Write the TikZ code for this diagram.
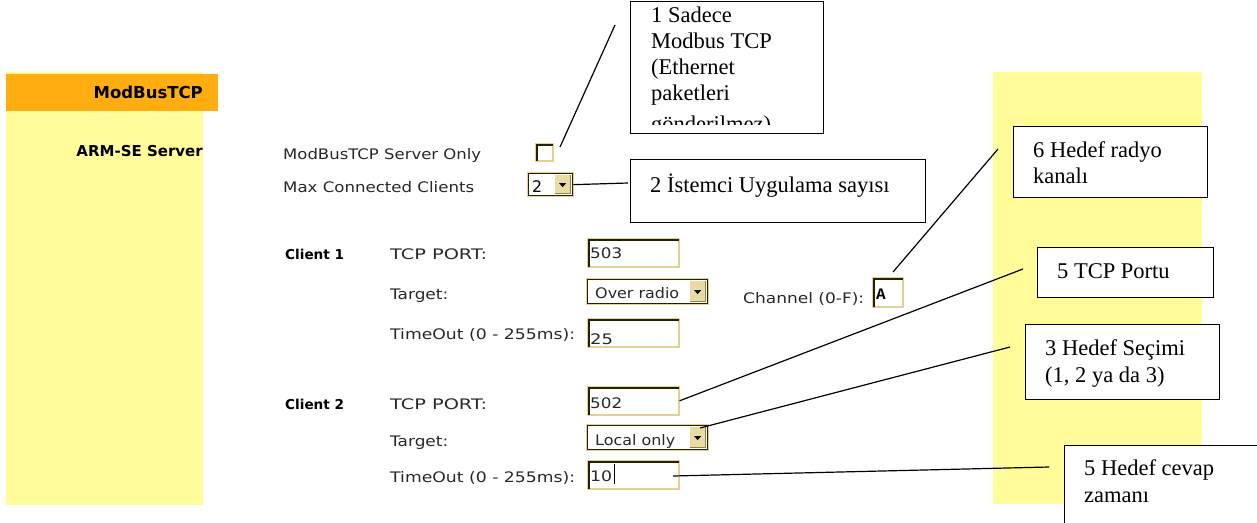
\documentclass[tikz,border=0pt]{standalone}
\usepackage{fontspec}
\usepackage{graphicx}
\usetikzlibrary{calc}
\setmainfont{Liberation Serif}
\newfontfamily\uifont{DejaVu Sans}
\newfontfamily\chanfont{Liberation Mono}
% stretch a label horizontally to a given width (in pt), keeping its height
\newcommand\fw[2]{\resizebox{#1pt}{\height}{#2}}
% sunken edge (top and left) of a text field; y runs downwards here
\newcommand\fieldedge[1]{%
  \draw[fielddark, line width=1.5pt]
    ($(#1.south west)+(1.8,-1.0)$) --
    ($(#1.north west)+(1.8,1.8)$) --
    ($(#1.north east)+(-1.0,1.8)$);}

\definecolor{paneyellow}{RGB}{255,252,153}
\definecolor{paneorange}{RGB}{255,173,16}
\definecolor{fieldtan}{RGB}{226,208,150}
\definecolor{fielddark}{RGB}{40,32,6}
\definecolor{btnfill}{RGB}{232,220,164}
\definecolor{btnedge}{RGB}{150,128,70}
\definecolor{uitext}{RGB}{40,40,40}

\tikzset{
  ui/.style={font=\uifont\fontsize{14.5pt}{17pt}\selectfont, text=uitext,
    anchor=base west, inner sep=0pt},
  uibold/.style={font=\uifont\bfseries\fontsize{#1pt}{#1pt}\selectfont, inner sep=0pt},
  note/.style={font=\fontsize{22.5pt}{26.5pt}\selectfont, anchor=base west, inner sep=0pt},
  callout/.style={draw=black, line width=1.4pt, fill=white, anchor=north west,
    inner sep=0pt, minimum width=#1},
  field/.style={draw=fieldtan, line width=1.6pt, fill=white, anchor=north west,
    inner sep=0pt},
  dropdown/.style={draw=fielddark, line width=1.3pt, fill=white, anchor=north west,
    inner sep=0pt, preaction={draw=fieldtan, line width=3.4pt},
    path picture={
      \fill[btnfill] ([xshift=-18pt,yshift=-1.5pt]path picture bounding box.north east)
        rectangle ([xshift=-1.5pt,yshift=1.5pt]path picture bounding box.south east);
      \draw[btnedge, line width=1pt]
        ([xshift=-18pt,yshift=1.8pt]path picture bounding box.south east) --
        ([xshift=-1.8pt,yshift=1.8pt]path picture bounding box.south east) --
        ([xshift=-1.8pt,yshift=-1.5pt]path picture bounding box.north east);
      \fill[black] ([xshift=-13.5pt,yshift=1.5pt]path picture bounding box.east) --
        ([xshift=-6.5pt,yshift=1.5pt]path picture bounding box.east) --
        ([xshift=-10pt,yshift=-2.5pt]path picture bounding box.east) -- cycle;}},
  lead/.style={line width=1.2pt, draw=black},
}

\begin{document}
\begin{tikzpicture}[x=1pt, y=-1pt]
\clip (0,0) rectangle (1257,522);
\fill[white] (0,0) rectangle (1257,522);

% side panels of the configuration page
\fill[paneyellow] (6,72) rectangle (203,505);
\fill[paneorange] (6,74) rectangle (218,111);
\fill[paneyellow] (993,72) rectangle (1202,504);

\node[uibold=16.5, anchor=base east] (hdr) at (203,98) {ModBusTCP};
\node[uibold=15, anchor=base east] (srv) at (203,156) {ARM-SE Server};

% server options
\node[ui] (lblonly) at (283,159) {\fw{198}{ModBusTCP Server Only}};
\node[ui] (lblmax) at (283,192) {\fw{191}{Max Connected Clients}};
\node[field, minimum width=17pt, minimum height=17pt] (cb) at (535,143) {};
\fieldedge{cb}
\node[dropdown, minimum width=44pt, minimum height=22pt] (mc) at (528,173) {};
\node[ui, text=black] (mcval) at (532,192) {\fw{10}{\fontsize{16pt}{16pt}\selectfont 2}};

% client 1
\node[uibold=13.6, anchor=base west] (c1) at (285,259) {Client 1};
\node[ui] (c1port) at (390,259) {\fw{97}{TCP PORT:}};
\node[ui] (c1tgt) at (390,299) {\fw{58}{Target:}};
\node[ui] (c1to) at (390,339) {\fw{185}{TimeOut (0 - 255ms):}};
\node[field, minimum width=91pt, minimum height=28pt] (p1) at (587,238) {};
\fieldedge{p1}
\node[ui] (p1val) at (590,258) {\fw{32}{503}};
\node[dropdown, minimum width=120pt, minimum height=24pt] (s1) at (587,279) {};
\node[ui] (s1val) at (595,298) {\fw{84}{Over radio}};
\node[field, minimum width=91pt, minimum height=28pt] (t1) at (587,318) {};
\fieldedge{t1}
\node[ui] (t1val) at (590,344) {\fw{23}{25}};
\node[ui] (chl) at (743,303) {\fw{121}{Channel (0-F):}};
\node[field, minimum width=30pt, minimum height=29pt] (ch) at (872,277) {};
\fieldedge{ch}
\node[font=\chanfont\bfseries\fontsize{16pt}{16pt}\selectfont, anchor=base west,
  inner sep=0pt] (chval) at (876,299) {A};

% client 2
\node[uibold=13.6, anchor=base west] (c2) at (285,409) {Client 2};
\node[ui] (c2port) at (390,409) {\fw{97}{TCP PORT:}};
\node[ui] (c2tgt) at (390,446) {\fw{58}{Target:}};
\node[ui] (c2to) at (390,482) {\fw{185}{TimeOut (0 - 255ms):}};
\node[field, minimum width=91pt, minimum height=28pt] (p2) at (587,386) {};
\fieldedge{p2}
\node[ui] (p2val) at (590,408) {\fw{32}{502}};
\node[dropdown, minimum width=120pt, minimum height=24pt] (s2) at (587,425) {};
\node[ui] (s2val) at (595,445) {\fw{80}{Local only}};
\node[field, minimum width=91pt, minimum height=28pt] (t2) at (587,460) {};
\fieldedge{t2}
\node[ui] (t2val) at (590,481) {\fw{22}{10}};
\draw[black, line width=1pt] (614.5,464) -- (614.5,484);

% callout boxes
\node[callout=193pt, minimum height=132pt] (b1) at (630,1) {};
\begin{scope}
  \clip (631,2) rectangle (822,124);
  \node[note] (b1a) at (651,22) {1 Sadece};
  \node[note] (b1b) at (651,48) {Modbus TCP};
  \node[note] (b1c) at (651,74) {(Ethernet};
  \node[note] (b1d) at (651,100) {paketleri};
  \node[note] (b1e) at (651,131) {gönderilmez)};
\end{scope}

\node[callout=295pt, minimum height=63pt] (b2) at (630,159) {};
\node[note] (b2a) at (650,192) {2 İstemci Uygulama sayısı};

\node[callout=194pt, minimum height=71pt] (b6) at (1013,126) {};
\node[note] (b6a) at (1033,157) {6 Hedef radyo};
\node[note] (b6b) at (1033,183) {kanalı};

\node[callout=176pt, minimum height=50pt] (b5) at (1037,247) {};
\node[note] (b5a) at (1057,278) {5 TCP Portu};

\node[callout=194pt, minimum height=75pt] (b3) at (1025,324) {};
\node[note] (b3a) at (1045,355) {3 Hedef Seçimi};
\node[note] (b3b) at (1045,382) {(1, 2 ya da 3)};

\node[callout=200pt, minimum height=90pt] (b7) at (1064,445) {};
\node[note] (b7a) at (1084,475) {5 Hedef cevap};
\node[note] (b7b) at (1084,502) {zamanı};

% leader lines
\coordinate (l1s) at (560,147);
\coordinate (l1e) at (615,25);
\coordinate (l2e) at (628,183);
\coordinate (l6s) at (893,272);
\coordinate (l6e) at (998,149);
\coordinate (l5e) at (1023,269);
\coordinate (l3s) at (700,428);
\coordinate (l3e) at (1010,347);
\coordinate (l7s) at (673,476);
\coordinate (l7e) at (1049,467);

\draw[lead] (l1s) -- (l1e);
\draw[lead] (mc.east) -- (l2e);
\draw[lead] (l6s) -- (l6e);
\draw[lead] (p2.east) -- (l5e);
\draw[lead] (l3s) -- (l3e);
\draw[lead] (l7s) -- (l7e);
\end{tikzpicture}
\end{document}
